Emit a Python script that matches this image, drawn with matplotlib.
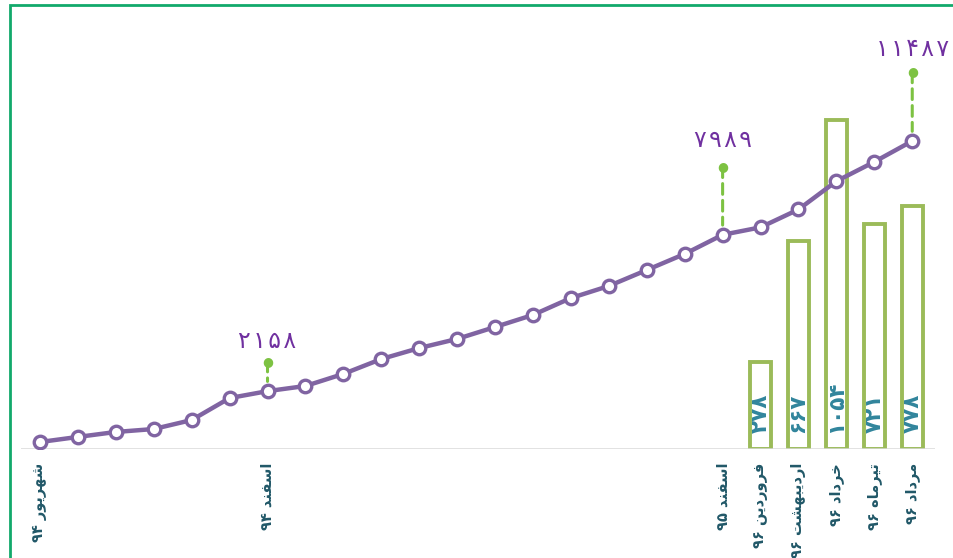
import matplotlib.pyplot as plt
from matplotlib.patches import Rectangle

# data
months = ["شهریور ۹۴", "مهر ۹۴", "آبان ۹۴", "آذر ۹۴", "دی ۹۴", "بهمن ۹۴", "اسفند ۹۴",
          "فروردین ۹۵", "اردیبهشت ۹۵", "خرداد ۹۵", "تیر ۹۵", "مرداد ۹۵", "شهریور ۹۵",
          "مهر ۹۵", "آبان ۹۵", "آذر ۹۵", "دی ۹۵", "بهمن ۹۵", "اسفند ۹۵",
          "فروردین ۹۶", "اردیبهشت ۹۶", "خرداد ۹۶", "تیرماه ۹۶", "مرداد ۹۶"]
shown_ticks = [0, 6, 18, 19, 20, 21, 22, 23]
cumulative = [260, 450, 635, 745, 1080, 1900, 2158, 2350, 2800, 3355, 3765, 4105,
              4550, 5000, 5630, 6080, 6675, 7275, 7989, 8267, 8934, 9988, 10709, 11487]
bar_idx = [19, 20, 21, 22, 23]
monthly = [278, 667, 1054, 721, 778]
callouts = [6, 18, 23]

# colours
LINE = "#8064A2"
NUM = "#7030A0"
GREEN_DOT = "#7DC242"
BAR_EDGE = "#9BBB59"
BAR_TXT = "#31859C"
TICK_TXT = "#215868"
FRAME = "#12A96B"

# --- simple persian shaping (matplotlib has no bidi / shaping) ---
FORMS = {
    "ا": (0xFE8D, 0xFE8E, None, None), "آ": (0xFE81, 0xFE82, None, None),
    "ب": (0xFE8F, 0xFE90, 0xFE91, 0xFE92), "ت": (0xFE95, 0xFE96, 0xFE97, 0xFE98),
    "خ": (0xFEA5, 0xFEA6, 0xFEA7, 0xFEA8), "د": (0xFEA9, 0xFEAA, None, None),
    "ذ": (0xFEAB, 0xFEAC, None, None), "ر": (0xFEAD, 0xFEAE, None, None),
    "س": (0xFEB1, 0xFEB2, 0xFEB3, 0xFEB4), "ش": (0xFEB5, 0xFEB6, 0xFEB7, 0xFEB8),
    "ف": (0xFED1, 0xFED2, 0xFED3, 0xFED4), "م": (0xFEE1, 0xFEE2, 0xFEE3, 0xFEE4),
    "ن": (0xFEE5, 0xFEE6, 0xFEE7, 0xFEE8), "ه": (0xFEE9, 0xFEEA, 0xFEEB, 0xFEEC),
    "و": (0xFEED, 0xFEEE, None, None),
    "ی": (0xFEEF, 0xFEF0, 0xFEF3, 0xFEF4),
}


def shape_word(w):
    out = []
    for i, ch in enumerate(w):
        f = FORMS.get(ch)
        if f is None:
            out.append(ch)
            continue
        prev = w[i - 1] if i > 0 else None
        nxt = w[i + 1] if i < len(w) - 1 else None
        jp = prev in FORMS and FORMS[prev][2] is not None
        jn = f[2] is not None and nxt in FORMS
        if jp and jn:
            code = f[3]
        elif jp:
            code = f[1]
        elif jn:
            code = f[2]
        else:
            code = f[0]
        out.append(chr(code))
    return "".join(out)


def fa(text):
    toks = text.split(" ")
    vis = []
    for t in toks:
        if any(c in FORMS for c in t):
            vis.append(shape_word(t)[::-1])
        else:
            vis.append(t)
    return " ".join(vis[::-1])


def fa_num(n, sep=""):
    return sep.join(chr(0x06F0 + int(d)) for d in str(n))


plt.rcParams["font.family"] = ["DejaVu Sans"]

fig = plt.figure(figsize=(9.54, 5.58), dpi=100)
ax = fig.add_axes([21 / 954, 109 / 558, 914 / 954, 429 / 558])
ax2 = ax.twinx()
ax.set_zorder(2)
ax.patch.set_visible(False)

x = list(range(len(cumulative)))
ax2.bar(bar_idx, monthly, width=0.55, facecolor="white", edgecolor=BAR_EDGE,
        linewidth=2.8)
for i, v in zip(bar_idx, monthly):
    ax2.annotate(fa_num(v), (i, 0), xytext=(0, 16), textcoords="offset pixels",
                 rotation=90, ha="center", va="bottom", color=BAR_TXT,
                 fontsize=15.5, fontweight="bold")

ax.plot(x, cumulative, color=LINE, lw=3.2, marker="o", ms=9,
        mfc="white", mec=LINE, mew=2.4, zorder=5)

# callouts: dashed stem, dot, number
dot_off = [30, 68, 69]
lab_off = [50, 95, 92]
for i, d, l in zip(callouts, dot_off, lab_off):
    ax.annotate("", (i, cumulative[i]), xytext=(0, d), textcoords="offset pixels",
                arrowprops=dict(arrowstyle="-", color=GREEN_DOT, lw=2.2,
                                linestyle=(0, (3.5, 2)), shrinkA=0, shrinkB=7))
    ax.annotate(fa_num(cumulative[i], "\u200a"), (i, cumulative[i]), xytext=(0, l),
                textcoords="offset pixels", ha="center", va="center",
                color=NUM, fontsize=17)
    ax.annotate("●", (i, cumulative[i]), xytext=(0, d), textcoords="offset pixels",
                ha="center", va="center", color=GREEN_DOT, fontsize=9)

ax.set_xlim(-0.5, 23.6)
ax.set_ylim(0, 16000)
ax2.set_ylim(0, 1374)

ax.set_xticks(shown_ticks)
ax.set_xticklabels([fa(months[i]) for i in shown_ticks], rotation=90,
                   color=TICK_TXT, fontsize=10.5, fontweight="bold")
ax.tick_params(axis="x", length=0, pad=10)
ax.set_yticks([])
ax2.set_yticks([])
for a in (ax, ax2):
    for s in ("top", "right", "left", "bottom"):
        a.spines[s].set_visible(False)
ax.axhline(0, color="#D9D9D9", lw=1.8, zorder=1)

fig.patches.append(Rectangle((10 / 954, -0.1), 1.2, 0.1 + 553 / 558,
                             transform=fig.transFigure, fill=False,
                             edgecolor=FRAME, lw=2))

fig.savefig("out.png", dpi=100)
